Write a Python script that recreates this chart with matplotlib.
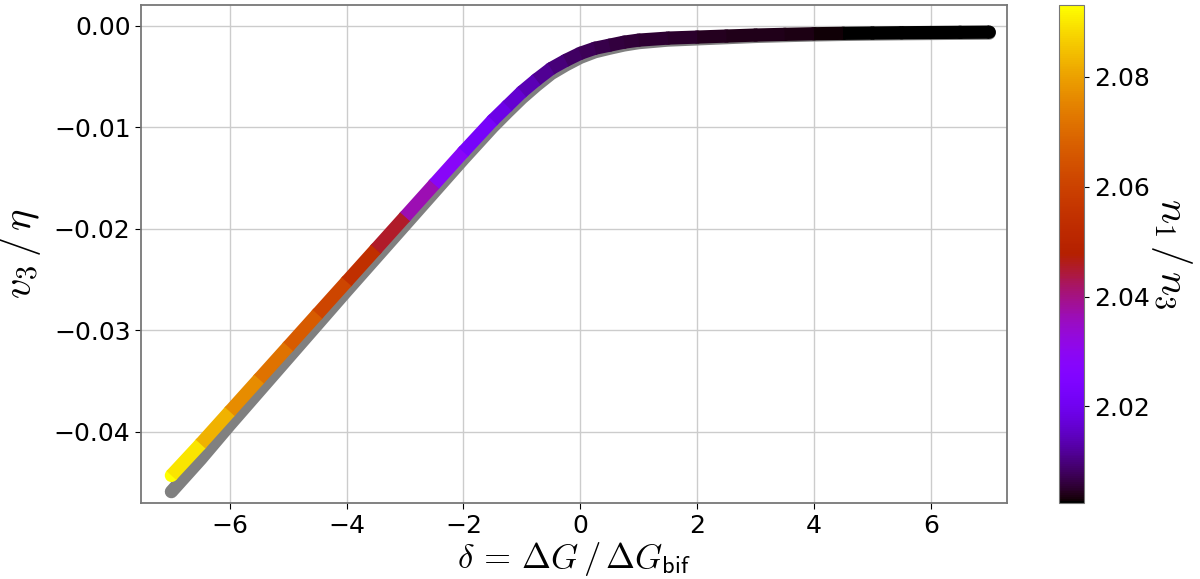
import numpy as np
import matplotlib
matplotlib.use("Agg")
import matplotlib.pyplot as plt
from matplotlib.collections import LineCollection
from matplotlib.colors import Normalize

plt.rcParams["mathtext.fontset"] = "cm"

# values
delta = [-7, -6.5, -6, -5.5, -5, -4.5, -4, -3.5, -3, -2.5, -2, -1.5, -1.25, -1,
         -0.75, -0.5, -0.25, 0, 0.25, 0.5, 0.75, 1, 1.5, 2, 2.5, 3, 3.5, 4, 4.5,
         5, 5.5, 6, 6.5, 7]
v3_eta = [-0.0443, -0.0412, -0.0380, -0.0348, -0.0316, -0.0284, -0.0252, -0.0220,
          -0.0188, -0.0156, -0.0124, -0.0093, -0.0079, -0.0065, -0.0053, -0.0042,
          -0.0034, -0.0027, -0.0022, -0.0019, -0.0016, -0.0014, -0.0012, -0.0011,
          -0.0010, -0.0009, -0.00083, -0.00077, -0.00073, -0.00070, -0.00067,
          -0.00065, -0.00063, -0.00061]
v3_eta_ref = [-0.0459, -0.0427, -0.0393, -0.0360, -0.0327, -0.0294, -0.0261, -0.02285,
              -0.0196, -0.01635, -0.0131, -0.00995, -0.0085, -0.0071, -0.00585,
              -0.0047, -0.00385, -0.0031, -0.00255, -0.0022, -0.00188, -0.00165,
              -0.0014, -0.00128, -0.00116, -0.00104, -0.00096, -0.00089, -0.00084,
              -0.0008, -0.00077, -0.00075, -0.00073, -0.00071]
n1_n3 = [2.093, 2.086, 2.079, 2.074, 2.069, 2.064, 2.058, 2.050, 2.041, 2.032, 2.025,
         2.020, 2.0175, 2.015, 2.0125, 2.0105, 2.009, 2.0078, 2.0071, 2.0065, 2.006,
         2.0056, 2.0051, 2.0047, 2.0043, 2.0040, 2.0037, 2.0034, 2.0026, 2.0024,
         2.0024, 2.0024, 2.0024, 2.0024]

x = np.array(delta)
y = np.array(v3_eta)
c = np.array(n1_n3)
lw = 9.5

fig = plt.figure(figsize=(12, 5.79), dpi=100)
ax = fig.add_axes([0.1175, 0.131, 0.7215, 0.860])
cax = fig.add_axes([0.8825, 0.131, 0.0208, 0.860])

# grey reference curve underneath
ax.plot(delta, v3_eta_ref, color="grey", lw=lw, solid_capstyle="round", zorder=2)

# coloured curve: dots fill the joints and round the ends, segments on top
norm = Normalize(vmin=c.min(), vmax=c.max())
ax.scatter(x, y, c=c, cmap="gnuplot", norm=norm, s=lw ** 2, lw=0, zorder=3)
pts = np.column_stack([x, y]).reshape(-1, 1, 2)
segs = np.concatenate([pts[:-1], pts[1:]], axis=1)
lc = LineCollection(segs, cmap="gnuplot", norm=norm, linewidths=lw,
                    capstyle="butt", zorder=4)
lc.set_array((c[:-1] + c[1:]) / 2)
ax.add_collection(lc)

ax.set_xlim(-7.52, 7.3)
ax.set_ylim(-0.04703, 0.00204)
ax.grid(True, color="#cccccc", lw=1)
ax.set_axisbelow(True)
ax.tick_params(labelsize=18, colors="black", length=4)
for s in ax.spines.values():
    s.set_color("#777777")
    s.set_linewidth(1.3)

ax.set_xlabel(r"$\delta\, =\, \mathit{\Delta} G\,/\,\mathit{\Delta} G_{\mathsf{bif}}$",
              fontsize=25, labelpad=2)
ax.set_ylabel(r"$v_3\,/\,\eta$", fontsize=29, labelpad=8)

cb = fig.colorbar(plt.cm.ScalarMappable(norm=norm, cmap="gnuplot"), cax=cax)
cb.set_ticks([2.02, 2.04, 2.06, 2.08])
cb.ax.tick_params(labelsize=18)
cb.outline.set_edgecolor("#777777")
cb.set_label(r"$n_1\,/\,n_3$", fontsize=29, rotation=270, labelpad=32)

fig.savefig("out.png", dpi=100)
